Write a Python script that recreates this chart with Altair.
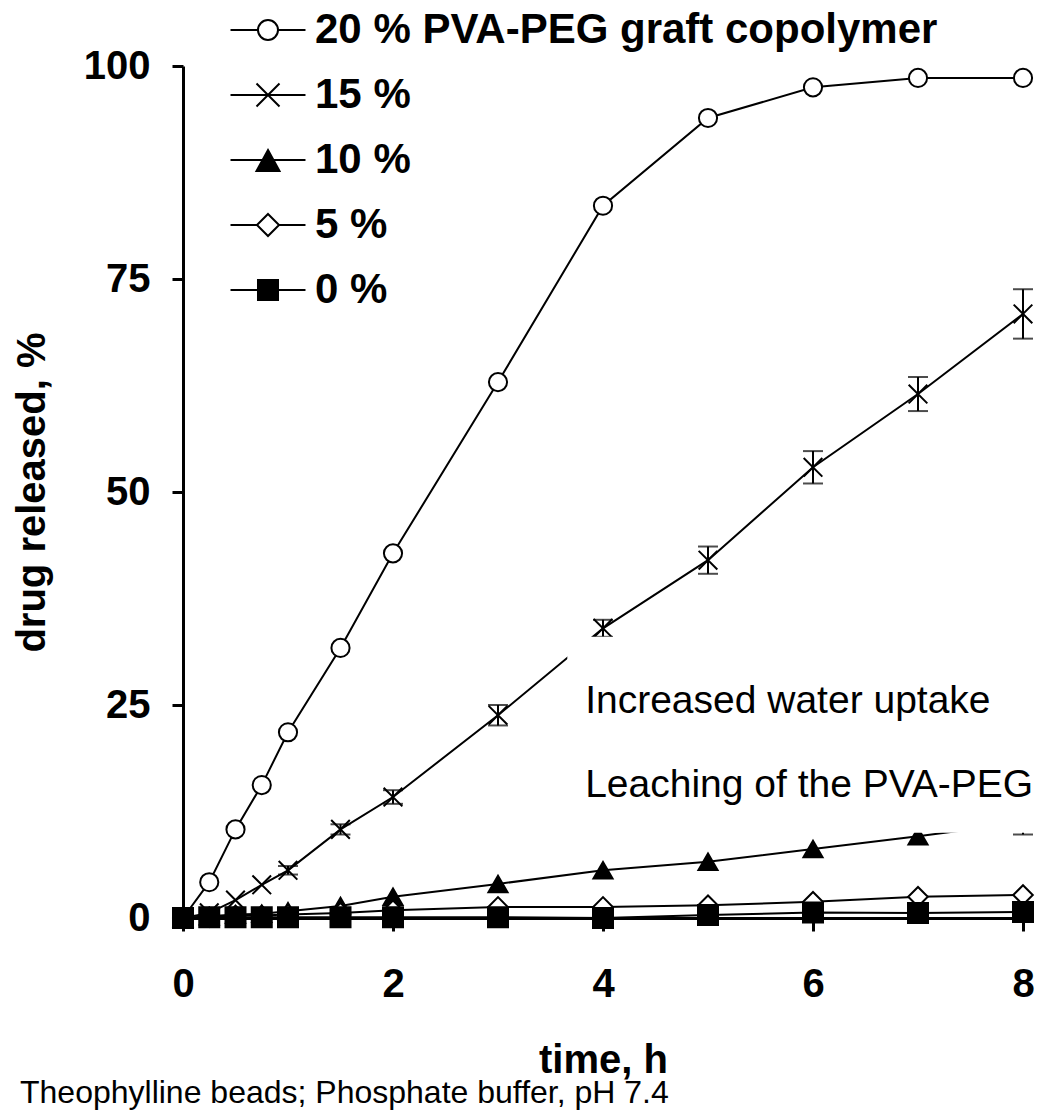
import altair as alt
import pandas as pd

# ---------------- data ----------------
TIME = [0, 0.25, 0.5, 0.75, 1, 1.5, 2, 3, 4, 5, 6, 7, 8]
SERIES = ["20 % PVA-PEG graft copolymer", "15 %", "10 %", "5 %", "0 %"]
REL_20 = [0, 4.2, 10.4, 15.6, 21.8, 31.7, 42.8, 62.9, 83.6, 93.9, 97.5, 98.6, 98.6]
REL_15 = [0, 0.6, 2.1, 3.9, 5.6, 10.4, 14.2, 23.8, 34.0, 42.0, 52.9, 61.5, 70.9]
REL_10 = [0, 0.2, 0.4, 0.5, 0.8, 1.4, 2.5, 4.0, 5.6, 6.6, 8.1, 9.6, 11.2]
REL_5 = [0, 0.1, 0.3, 0.3, 0.4, 0.6, 0.9, 1.3, 1.3, 1.5, 1.9, 2.5, 2.7]
REL_0 = [0, 0.1, 0.1, 0.1, 0.1, 0.1, 0.1, 0.1, 0.0, 0.35, 0.65, 0.6, 0.7]
ERR_20 = [0] * 13
ERR_15 = [0, 0, 0, 0, 0.5, 0.6, 0.8, 1.2, 1.0, 1.6, 1.9, 2.0, 2.9]
ERR_10 = [0, 0, 0, 0, 0, 0, 0, 0, 0, 0, 0, 0, 1.4]
ERR_5 = [0] * 13
ERR_0 = [0] * 13

X_TICKS = [0, 2, 4, 6, 8]
Y_TICKS = [0, 25, 50, 75, 100]

ANNOT_TEXT = ["Increased water uptake", "Leaching of the PVA-PEG"]
ANNOT_T = [3.83, 3.83]
ANNOT_Y = [24.1, 14.2]
BOX_T = [3.66, 8.3]
BOX_Y = [10.0, 33.0]

SUBTITLE = "Theophylline beads; Phosphate buffer, pH 7.4"

# ---------------- table ----------------
rows = []
for name, vals, errs in zip(SERIES, [REL_20, REL_15, REL_10, REL_5, REL_0],
                            [ERR_20, ERR_15, ERR_10, ERR_5, ERR_0]):
    for t, v, e in zip(TIME, vals, errs):
        rows.append({"t": t, "value": v, "series": name, "err": e,
                     "lo": v - e, "hi": v + e})
df = pd.DataFrame(rows)

annot = pd.DataFrame({"t": ANNOT_T, "y": ANNOT_Y, "label": ANNOT_TEXT})
box = pd.DataFrame({"t": [BOX_T[0]], "t2": [BOX_T[1]], "y": [BOX_Y[0]], "y2": [BOX_Y[1]]})

FONT = "Liberation Sans"

# marker styles
X_PATH = "M-1,-1L1,1M-1,1L1,-1"
POINT_SHAPES = ["circle", X_PATH, "triangle-up", "diamond", "square"]
POINT_FILLS = ["white", "white", "black", "white", "black"]
POINT_SIZES = [330, 400, 529, 460, 330]

# legend symbols: line + marker (unit = half of sqrt(symbolSize))
L = "3.26"
LEG_SHAPES = [
    f"M-{L},0H-0.87M-0.87,0A0.87,0.87 0 1,1 0.87,0A0.87,0.87 0 1,1 -0.87,0M0.87,0H{L}",
    f"M-{L},0H{L}M-1,-1L1,1M-1,1L1,-1",
    f"M-{L},0H{L}M0,-0.87L1,0.96L-1,0.96Z",
    f"M-{L},0H-0.96M0.96,0H{L}M0,-0.96L0.96,0L0,0.96L-0.96,0Z",
    f"M-{L},0H{L}M-0.87,-0.87H0.87V0.87H-0.87Z",
]

x_scale = alt.Scale(domain=[0, 8], nice=False, zero=False)
y_scale = alt.Scale(domain=[0, 100], nice=False)

x_enc = alt.X("t:Q", scale=x_scale,
              axis=alt.Axis(values=X_TICKS, title="time, h", format="d", labelFlush=False))
y_enc = alt.Y("value:Q", scale=y_scale,
              axis=alt.Axis(values=Y_TICKS, title="drug released, %"))

base = alt.Chart(df)

lines = base.mark_line(color="black", strokeWidth=2).encode(
    x=x_enc, y=y_enc, detail="series:N", order="t:Q")

err = base.transform_filter("datum.err > 0")
err_rule = err.mark_rule(color="black", strokeWidth=2).encode(
    x="t:Q", y="lo:Q", y2="hi:Q")
cap_lo = err.mark_tick(color="black", thickness=2, size=20, orient="horizontal").encode(
    x="t:Q", y="lo:Q")
cap_hi = err.mark_tick(color="black", thickness=2, size=20, orient="horizontal").encode(
    x="t:Q", y="hi:Q")

points = base.mark_point(stroke="black", strokeWidth=2, opacity=1).encode(
    x="t:Q", y="value:Q",
    shape=alt.Shape("series:N", scale=alt.Scale(domain=SERIES, range=POINT_SHAPES), legend=None),
    fill=alt.Fill("series:N", scale=alt.Scale(domain=SERIES, range=POINT_FILLS), legend=None),
    size=alt.Size("series:N", scale=alt.Scale(domain=SERIES, range=POINT_SIZES), legend=None),
)

legend_layer = base.transform_filter("false").mark_point(
    strokeWidth=2, opacity=1).encode(
    x="t:Q", y="value:Q",
    shape=alt.Shape("series:N", scale=alt.Scale(domain=SERIES, range=LEG_SHAPES),
                    legend=alt.Legend(
                        orient="none", legendX=64, legendY=-57, title=None,
                        labelFont=FONT, labelFontWeight="bold", labelFontSize=42,
                        labelColor="black", labelOffset=26, labelLimit=1000,
                        symbolSize=529, symbolStrokeWidth=2,
                        rowPadding=23, padding=0)),
    fill=alt.Fill("series:N", scale=alt.Scale(domain=SERIES, range=POINT_FILLS)),
    stroke=alt.Stroke("series:N", scale=alt.Scale(domain=SERIES, range=["black"] * 5)),
)

box_layer = alt.Chart(box).mark_rect(color="white").encode(
    x="t:Q", x2="t2:Q", y="y:Q", y2="y2:Q")

annot_layer = alt.Chart(annot).mark_text(
    align="left", baseline="alphabetic", font=FONT, fontSize=39, color="black").encode(
    x="t:Q", y="y:Q", text="label:N")

chart = alt.layer(
    lines, err_rule, cap_lo, cap_hi, points, box_layer, annot_layer, legend_layer
).resolve_scale(
    shape="independent", fill="independent", stroke="independent"
).properties(
    width=840, height=852,
    autosize=alt.AutoSizeParams(type="none"),
    padding={"left": 183, "top": 66, "right": 22, "bottom": 194},
    title=alt.TitleParams(SUBTITLE, orient="bottom", anchor="start", frame="group",
                          dx=-163, offset=-2, font=FONT, fontSize=32,
                          fontWeight="normal", color="black"),
).configure_view(
    stroke=None
).configure_axis(
    grid=False, domainColor="black", tickColor="black", labelColor="black",
    titleColor="black", labelFont=FONT, labelFontWeight="bold", labelFontSize=40,
    titleFont=FONT, titleFontWeight="bold", titleFontSize=40,
).configure_axisY(
    domainWidth=3, tickWidth=3, tickSize=11, labelPadding=22, titlePadding=31,
).configure_axisX(
    domainWidth=3, tickWidth=3, tickSize=13, labelPadding=33, titlePadding=36,
)

chart.save("out.html", embed_options={"renderer": "svg", "actions": False})
